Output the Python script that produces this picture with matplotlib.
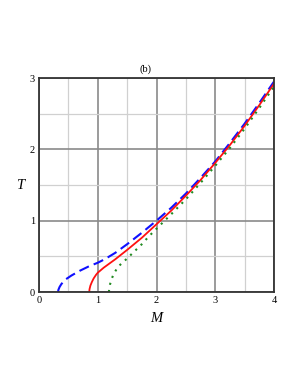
import matplotlib
matplotlib.use("Agg")
import matplotlib.pyplot as plt

# Data
blue_M = [0.325, 0.33, 0.35, 0.38, 0.41, 0.46, 0.55, 0.70, 0.85, 1.0, 1.12, 1.3, 1.5, 1.75, 2.0, 2.25, 2.5, 2.75, 3.0, 3.25, 3.5, 3.75, 4.0]
blue_T = [0.0, 0.03, 0.07, 0.11, 0.14, 0.18, 0.23, 0.30, 0.36, 0.41, 0.46, 0.55, 0.67, 0.83, 1.0, 1.18, 1.38, 1.60, 1.83, 2.09, 2.36, 2.65, 2.95]

red_M = [0.855, 0.86, 0.875, 0.9, 0.93, 0.97, 1.0, 1.1, 1.3, 1.5, 1.75, 2.0, 2.25, 2.5, 2.75, 3.0, 3.25, 3.5, 3.75, 4.0]
red_T = [0.0, 0.04, 0.09, 0.14, 0.19, 0.24, 0.27, 0.34, 0.46, 0.59, 0.76, 0.95, 1.14, 1.35, 1.57, 1.81, 2.06, 2.33, 2.62, 2.92]

green_M = [1.19, 1.195, 1.21, 1.24, 1.27, 1.32, 1.38, 1.5, 1.75, 1.87, 2.04, 2.25, 2.5, 2.75, 3.0, 3.25, 3.5, 3.75, 4.0]
green_T = [0.0, 0.05, 0.11, 0.19, 0.25, 0.32, 0.38, 0.47, 0.67, 0.78, 0.92, 1.09, 1.30, 1.53, 1.77, 2.02, 2.29, 2.58, 2.88]

x_ticks = [0, 1, 2, 3, 4]
y_ticks = [0, 1, 2, 3]

plt.rcParams['font.family'] = ['Liberation Serif', 'DejaVu Serif']

fig = plt.figure(figsize=(2.98, 3.85), dpi=100)
ax = fig.add_axes([39/298, 1-292/385, (274-39)/298, (292-78)/385])

ax.set_xlim(0, 4)
ax.set_ylim(0, 3)
ax.set_xticks(x_ticks)
ax.set_yticks(y_ticks)
ax.set_xticks([0.5, 1.5, 2.5, 3.5], minor=True)
ax.set_yticks([0.5, 1.5, 2.5], minor=True)
ax.grid(which='major', color='#8a8a8a', linewidth=1.2)
ax.grid(which='minor', color='#d0d0d0', linewidth=0.9)
ax.set_axisbelow(True)
ax.tick_params(which='both', length=0, labelsize=7.5, pad=3)
for s in ax.spines.values():
    s.set_color('#333333')
    s.set_linewidth(1.3)

ax.plot(blue_M, blue_T, color='#1010ff', linewidth=1.5, dashes=(5, 2.5))
ax.plot(red_M, red_T, color='#ff1010', linewidth=1.3)
ax.plot(green_M, green_T, color='#228b22', linewidth=1.5, linestyle=(0, (1, 2.5)))

fig.text(145/298, 1-69/385, '(b)', fontsize=7.5, ha='center', va='center')
fig.text(20/298, 1-186/385, 'T', fontsize=10.5, style='italic', ha='center', va='center')
fig.text(156/298, 1-318/385, 'M', fontsize=10.5, style='italic', ha='center', va='center')

fig.savefig('out.png', dpi=100)
